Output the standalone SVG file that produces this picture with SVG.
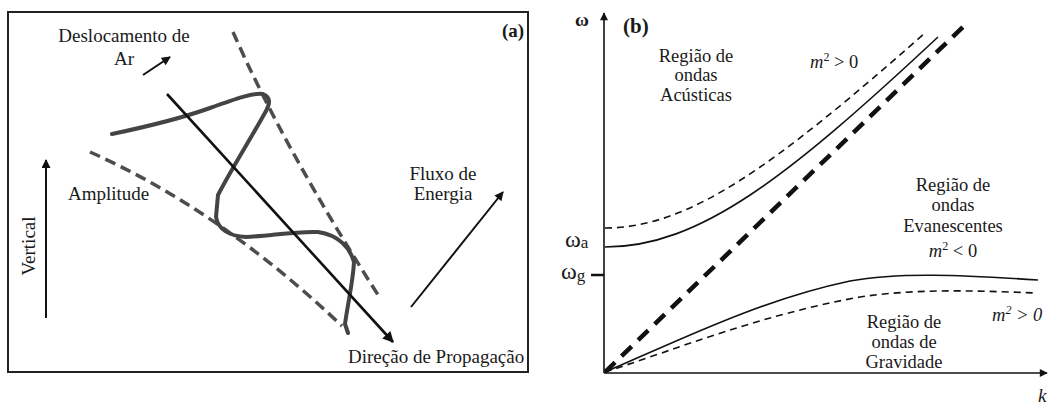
<svg xmlns="http://www.w3.org/2000/svg" width="1048" height="405" viewBox="0 0 1048 405">
<defs>
<style>
text{font-family:"Liberation Serif","Times New Roman",serif;fill:#1a1a1a}
.ta{font-size:19px}
.tb{font-size:18.5px}
.it{font-style:italic}
.frame{fill:none;stroke:#222;stroke-width:2}
.env{fill:none;stroke:#4d4d4d;stroke-width:3.5;stroke-dasharray:11 6}
.wave{fill:none;stroke:#444;stroke-width:4;stroke-linecap:round;stroke-linejoin:round}
.arr{fill:none;stroke:#111;stroke-width:2;marker-end:url(#ah)}
.axis{fill:none;stroke:#111;stroke-width:1.6;marker-end:url(#ax)}
.cs{fill:none;stroke:#111;stroke-width:1.6}
.cd{fill:none;stroke:#111;stroke-width:1.6;stroke-dasharray:7 5}
.thick{fill:none;stroke:#111;stroke-width:4.5;stroke-dasharray:14 9}
</style>
<marker id="ah" viewBox="0 0 10 10" refX="9" refY="5" markerWidth="11" markerHeight="9" markerUnits="userSpaceOnUse" orient="auto"><path d="M0,0 L10,5 L0,10 z" fill="#111"/></marker>
<marker id="ahb" viewBox="0 0 10 10" refX="9" refY="5" markerWidth="14" markerHeight="11" markerUnits="userSpaceOnUse" orient="auto"><path d="M0,0 L10,5 L0,10 z" fill="#111"/></marker>
<marker id="ax" viewBox="0 0 10 10" refX="9" refY="5" markerWidth="10" markerHeight="8" markerUnits="userSpaceOnUse" orient="auto"><path d="M0,0 L10,5 L0,10 z" fill="#111"/></marker>
</defs>
<rect width="1048" height="405" fill="#fff"/>

<g id="panel-a">
<rect class="frame" x="8" y="12" width="520" height="360"/>
<text x="502" y="37" style="font-size:19px;font-weight:bold">(a)</text>
</g>

<g id="envelope">
<path class="env" d="M233,32 Q285,150 380,298"/>
<path class="env" d="M90,152 Q220,210 342,326"/>
</g>

<g id="wave">
<path class="wave" d="M112,134 C150,126 185,117 210,108 C235,99 255,92 263,94 C271,97 270,104 266,111 C250,140 232,168 218,195 L216,217 C218,229 229,236 246,237 C270,236 295,231 318,232 C339,235 350,248 354,262 C353,282 348,302 345,324 L348,333"/>
</g>

<g id="label-deslocamento">
<text class="ta" x="124" y="42" text-anchor="middle">Deslocamento de</text>
<text class="ta" x="124" y="65" text-anchor="middle">Ar</text>
</g>
<g id="label-amplitude"><text class="ta" x="68" y="200">Amplitude</text></g>
<g id="label-vertical"><text class="ta" transform="translate(35,246) rotate(-90)" text-anchor="middle">Vertical</text></g>
<g id="label-fluxo">
<text class="ta" x="443" y="180" text-anchor="middle">Fluxo de</text>
<text class="ta" x="443" y="200" text-anchor="middle">Energia</text>
</g>
<g id="label-direcao"><text class="ta" x="348" y="363">Direção de Propagação</text></g>

<g id="connectors-a">
<line class="arr" x1="143" y1="75" x2="170" y2="57"/>
<line class="arr" x1="46" y1="318" x2="46" y2="160"/>
<line class="arr" x1="411" y1="307" x2="503" y2="192"/>
<line fill="none" stroke="#111" stroke-width="2.6" marker-end="url(#ahb)" x1="167" y1="94" x2="393" y2="342"/>
</g>

<g id="panel-b">
<text x="623" y="33" style="font-size:21px;font-weight:bold">(b)</text>
<line class="axis" x1="604" y1="373" x2="604" y2="13"/>
<line class="axis" x1="604" y1="373" x2="1047" y2="373"/>
<line class="cs" x1="591" y1="275" x2="604" y2="275" style="stroke-width:2.5"/>
<text x="575" y="26" style="font-size:19px;font-weight:bold">ω</text>
<text x="1038" y="402" class="it" style="font-size:19px">k</text>
<text x="565" y="247" style="font-size:24px">ω<tspan style="font-size:17px" dy="1">a</tspan></text>
<text x="561" y="279" style="font-size:24px">ω<tspan style="font-size:17px" dy="2">g</tspan></text>
</g>

<g id="curves-b">
<path class="thick" d="M605,372 L967,23"/>
<path class="cd" d="M605,228 C690,228 775,165 925,33"/>
<path class="cs" d="M605,247 C700,247 788,177 938,37"/>
<path class="cs" d="M605,372 C680,340 760,300 850,281 C900,272 960,275 1038,280"/>
<path class="cd" d="M605,372 C680,348 760,315 860,297 C920,288 980,291 1037,293"/>
</g>

<g id="label-acusticas">
<text class="tb" x="696" y="62" text-anchor="middle">Região de</text>
<text class="tb" x="696" y="81" text-anchor="middle">ondas</text>
<text class="tb" x="696" y="101" text-anchor="middle">Acústicas</text>
</g>
<g id="label-m2-upper"><text class="tb" x="810" y="68"><tspan class="it">m</tspan><tspan style="font-size:12px" dy="-7">2</tspan><tspan dy="7"> &gt; 0</tspan></text></g>
<g id="label-evanescentes">
<text class="tb" x="953" y="191" text-anchor="middle">Região de</text>
<text class="tb" x="953" y="211" text-anchor="middle">ondas</text>
<text class="tb" x="953" y="232" text-anchor="middle">Evanescentes</text>
<text class="tb" x="953" y="257" text-anchor="middle"><tspan class="it">m</tspan><tspan style="font-size:12px" dy="-7">2</tspan><tspan dy="7"> &lt; 0</tspan></text>
</g>
<g id="label-m2-lower"><text class="tb it" x="992" y="321">m<tspan style="font-size:12px" dy="-7">2</tspan><tspan dy="7"> &gt; 0</tspan></text></g>
<g id="label-gravidade">
<text class="tb" x="904" y="328" text-anchor="middle">Região de</text>
<text class="tb" x="904" y="348" text-anchor="middle">ondas de</text>
<text class="tb" x="904" y="368" text-anchor="middle">Gravidade</text>
</g>
</svg>
